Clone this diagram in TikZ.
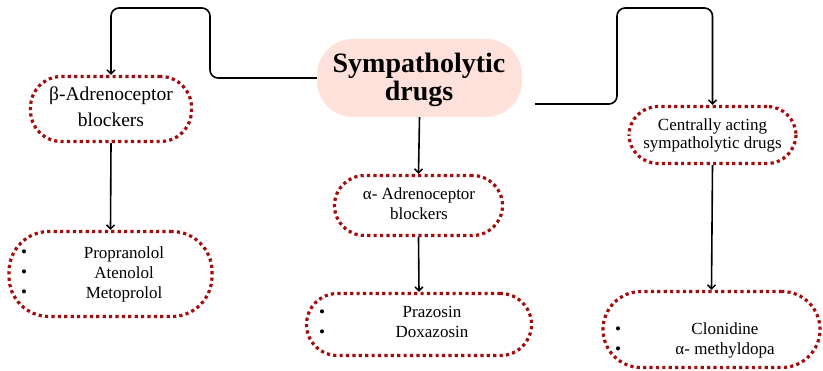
\documentclass[tikz,border=0pt]{standalone}
\usepackage{fontspec}
\setmainfont{Liberation Serif}
\usetikzlibrary{arrows.meta}
\definecolor{dotred}{HTML}{A30D0D}
\definecolor{pinkfill}{HTML}{FDE1DA}
\begin{document}
\begin{tikzpicture}[x=1pt,y=-1pt,
  dotbox/.style={draw=dotred, line width=3.2pt, dash pattern=on 3.2pt off 3.2pt, rounded corners=#1, inner sep=0pt},
  conn/.style={line width=1.6pt, rounded corners=8pt, -{Straight Barb[length=4pt,width=8pt,line width=1.5pt]}},
  txt/.style={font=\fontsize{17}{20}\selectfont, anchor=base, inner sep=0pt},
  btxt/.style={font=\fontsize{19.5}{25}\selectfont, anchor=base, inner sep=0pt},
  ttxt/.style={font=\fontsize{28}{28}\selectfont\bfseries, anchor=base, inner sep=0pt},
  bul/.style={font=\fontsize{17}{17}\selectfont, inner sep=0pt, anchor=center}]
\useasboundingbox (0,0) rectangle (823,371);

% central node
\node[fill=pinkfill, rounded corners=36pt, minimum width=205pt, minimum height=78pt, inner sep=0pt] (central) at (419.5,78) {};
\node[ttxt] (t1) at (419,73) {Sympatholytic};
\node[ttxt] (t2) at (419,101) {drugs};

% beta box
\node[dotbox=31pt, minimum width=161pt, minimum height=65pt] (beta) at (111,109) {};
\node[btxt] (b1) at (111,101) {β-Adrenoceptor};
\node[btxt] (b2) at (111,127) {blockers};

% beta list
\node[dotbox=40pt, minimum width=203pt, minimum height=85pt] (betalist) at (110.5,274) {};
\node[txt] (p1) at (124,259) {Propranolol};
\node[txt] (p2) at (124,279) {Atenolol};
\node[txt] (p3) at (124,299) {Metoprolol};
\node[bul] (u1) at (24,254) {•};
\node[bul] (u2) at (24,274) {•};
\node[bul] (u3) at (24,294) {•};

% alpha box
\node[dotbox=30pt, minimum width=168pt, minimum height=60pt] (alpha) at (418.5,205.5) {};
\node[txt] (a1) at (419,200) {α- Adrenoceptor};
\node[txt] (a2) at (419,220) {blockers};

% alpha list
\node[dotbox=31pt, minimum width=225pt, minimum height=62pt] (alphalist) at (419,324.5) {};
\node[txt] (q1) at (432,318) {Prazosin};
\node[txt] (q2) at (432,338) {Doxazosin};
\node[bul] (v1) at (322,314) {•};
\node[bul] (v2) at (322,334) {•};

% centrally acting box
\node[dotbox=29pt, minimum width=167pt, minimum height=57pt] (cab) at (712.5,135) {};
\node[txt] (c1) at (712.5,131) {Centrally acting};
\node[txt] (c2) at (712.5,149) {sympatholytic drugs};

% centrally list
\node[dotbox=38pt, minimum width=217pt, minimum height=76pt] (cablist) at (711.5,329.5) {};
\node[txt] (r1) at (725,335) {Clonidine};
\node[txt] (r2) at (725,355) {α- methyldopa};
\node[bul] (w1) at (618,331) {•};
\node[bul] (w2) at (618,351) {•};

% connectors
\coordinate (lbend) at (210,8);
\coordinate (rstart) at (535,104);
\coordinate (rbend) at (617,8);
\draw[conn] (central.west) -| (lbend) -| (beta.north);
\draw[conn] (rstart) -| (rbend) -| (cab.north);
\draw[conn] (central.south) -- (alpha.north);
\draw[conn] (beta.south) -- (betalist.north);
\draw[conn] (alpha.south) -- (alphalist.north);
\draw[conn] (cab.south) -- (cablist.north);
\end{tikzpicture}
\end{document}
